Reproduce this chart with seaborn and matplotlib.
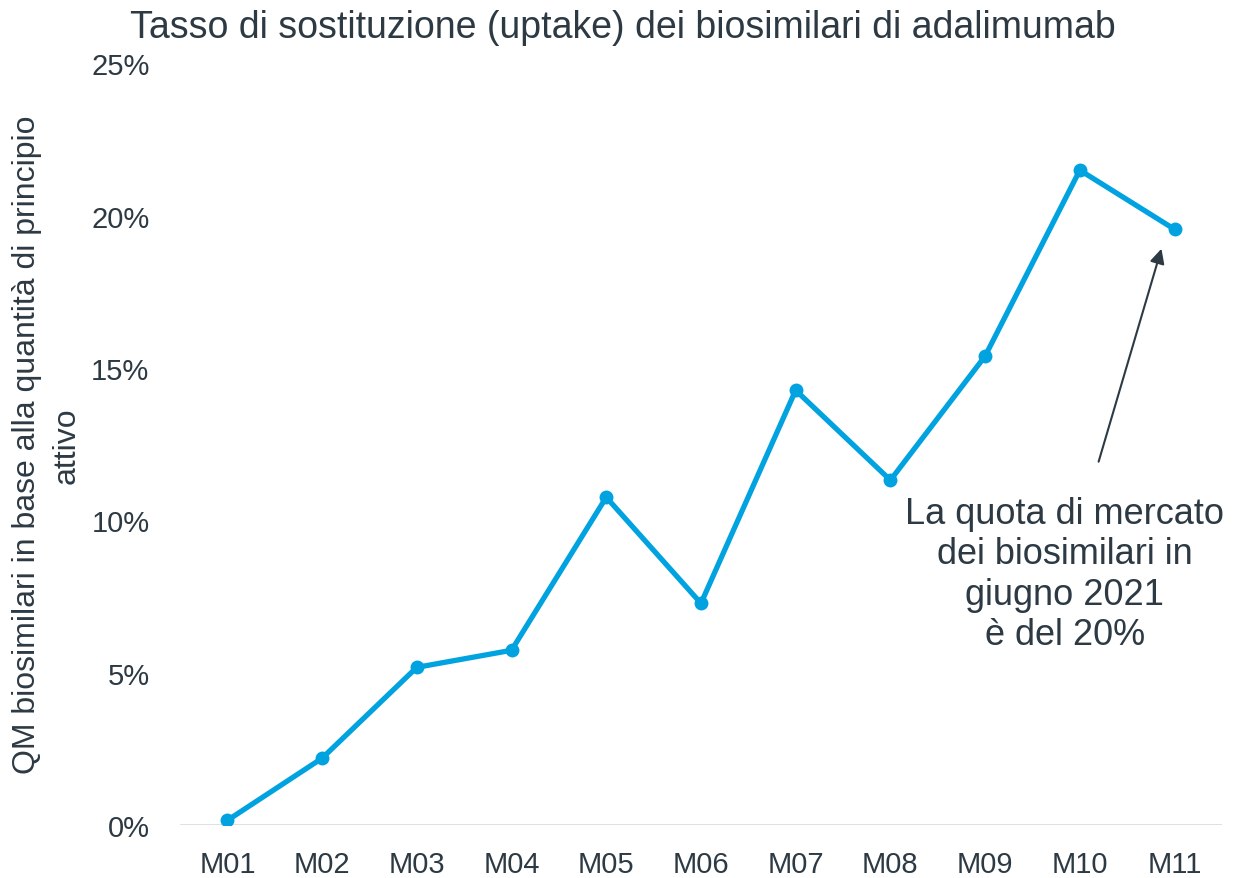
import numpy as np
import pandas as pd
import seaborn as sns
import matplotlib.pyplot as plt
from matplotlib.ticker import FuncFormatter

months = ["M01", "M02", "M03", "M04", "M05", "M06", "M07", "M08", "M09", "M10", "M11"]
uptake = [0.16, 2.2, 5.18, 5.74, 10.76, 7.28, 14.27, 11.32, 15.39, 21.49, 19.55]
y_ticks = [0, 5, 10, 15, 20, 25]

LINE_COLOR = "#00A3E0"
TEXT_COLOR = "#2D3A44"
REGULAR = ["Liberation Sans", "DejaVu Sans"]

sns.set_style("white")
plt.rcParams["font.family"] = REGULAR

df = pd.DataFrame({"month": months, "uptake": uptake})

fig = plt.figure(figsize=(12.33, 8.79), dpi=100)
ax = fig.add_axes([0.146, 0.060, 0.845, 0.867])

sns.lineplot(data=df, x="month", y="uptake", ax=ax, color=LINE_COLOR, linewidth=3.8,
             marker="o", markersize=10, markeredgewidth=0, sort=False)

ax.set_xlim(-0.5, len(months) - 0.5)
ax.set_ylim(0, 25)
ax.set_yticks(y_ticks)
ax.yaxis.set_major_formatter(FuncFormatter(lambda v, _: f"{v:.0f}%"))
ax.axhline(0, color="#D9DEE2", linewidth=2, zorder=0)

for s in ax.spines.values():
    s.set_visible(False)
ax.tick_params(axis="both", length=0, labelcolor=TEXT_COLOR, labelsize=21)
ax.tick_params(axis="y", pad=22)
ax.tick_params(axis="x", pad=18)

ax.set_xlabel("")
ax.set_ylabel("QM biosimilari in base alla quantità di principio\nattivo", fontsize=23,
              color=TEXT_COLOR, labelpad=7, linespacing=1.4)

fig.text(0.505, 0.968, "Tasso di sostituzione (uptake) dei biosimilari di adalimumab",
         ha="center", va="center", fontsize=27, color=TEXT_COLOR)

ax.annotate("", xy=(9.87, 19.0), xytext=(9.19, 11.84),
            arrowprops=dict(arrowstyle="-|>", color=TEXT_COLOR, lw=1.5, mutation_scale=22))
ax.text(8.84, 10.8, "La quota di mercato\ndei biosimilari in\ngiugno 2021\nè del 20%",
        ha="center", va="top", fontsize=26, color=TEXT_COLOR, linespacing=1.2)

fig.savefig("out.png", dpi=100)
